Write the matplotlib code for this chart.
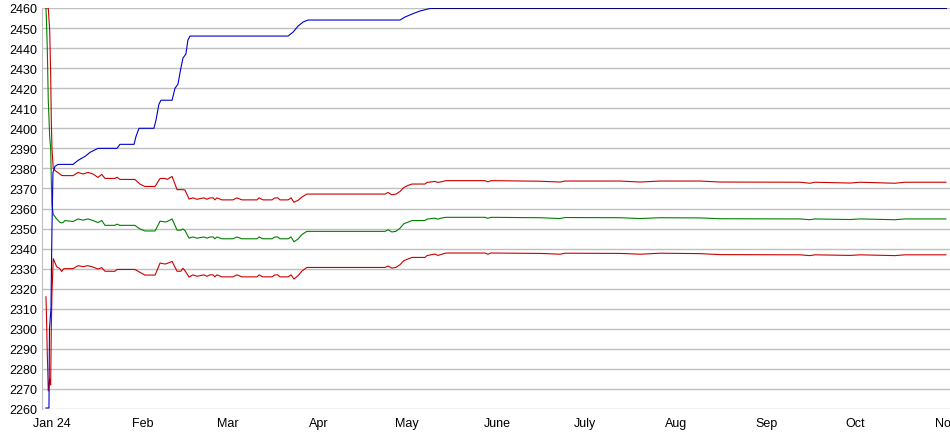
import pandas as pd
import matplotlib
matplotlib.use("Agg")
import matplotlib.pyplot as plt

# dias contados a partir de 1 jan 2024
blue_days = [-2.05, -1.02, -0.85, -0.34, 0, 0.34, 1.02, 2.05, 7.2, 8.9, 11.3, 13.0,
             15.7, 22.2, 23.2, 28.0, 28.7, 29.7, 34.8, 35.5, 36.5, 37.2, 41.0, 42.0,
             43.0, 44.0, 44.7, 45.7, 46.4, 47.1, 80.6, 82.3, 84.0, 85.7, 87.4, 118.8,
             120.5, 122.9, 125.6, 128.3, 129.7, 305.1]
blue_vals = [2260.5, 2260.5, 2300, 2310, 2350, 2378, 2381, 2382, 2382, 2384, 2386, 2388,
             2390, 2390, 2392, 2392, 2396, 2400, 2400, 2404, 2412, 2414, 2414, 2420,
             2422, 2430, 2435, 2437, 2444, 2446, 2446, 2448, 2451, 2453, 2454, 2454,
             2455.5, 2457, 2458.5, 2459.5, 2460, 2460]

# linha escura no topo depois de chegar no maximo
cap_days = [129.7, 305.1]
cap_vals = [2460, 2460]

days = [-2.05, -1.88, -1.60, -1.26, -0.78, -0.44, -0.24, 0, 0.44, 1.02, 1.6, 2.7,
        3.3, 3.9, 4.4, 7.2, 8.9, 10.6, 12.3, 14.0, 15.7, 17.0, 18.1, 21.5,
        22.2, 23.2, 28.3, 30.0, 31.7, 35.2, 36.9, 38.6, 39.3, 41.0, 42.7, 44.0,
        44.7, 45.4, 46.8, 48.1, 49.5, 51.9, 52.9, 53.9, 55.0, 55.6, 56.3, 58.0,
        61.8, 63.1, 64.9, 70.0, 70.7, 72.0, 75.1, 76.1, 77.1, 77.8, 80.6, 81.6,
        82.6, 84.0, 85.3, 87.0, 113.7, 114.7, 116.0, 117.4, 118.8, 120.1, 121.5, 122.9,
        127.3, 128.0, 130.7, 131.7, 133.1, 134.5, 147.8, 148.8, 149.8, 166.6, 173.4, 175.1,
        193.9, 200.7, 207.5, 221.2, 228.0, 255.3, 258.7, 260.4, 272.4, 275.8, 287.7, 291.1,
        305.1]

upper = [2460, 2460, 2460, 2460, 2449, 2427, 2405, 2390, 2380, 2379, 2378.4, 2377.2,
         2376.5, 2376.4, 2376.4, 2376.4, 2378, 2377.2, 2378, 2377.2, 2375.5, 2377, 2375, 2375,
         2375.6, 2374.5, 2374.5, 2372.2, 2371, 2371, 2375, 2375, 2374.5, 2376, 2369.4, 2369.4,
         2369.4, 2369.2, 2364.7, 2365.3, 2364.6, 2365.3, 2364.6, 2365.3, 2365.3, 2364.3, 2365.3, 2364.3,
         2364.3, 2365.3, 2364.3, 2364.3, 2365.3, 2364.3, 2364.3, 2365.3, 2365.3, 2364.3, 2364.3, 2365.3,
         2363.1, 2364.1, 2365.7, 2367.2, 2367.2, 2368, 2366.8, 2367.2, 2368.5, 2370.5, 2371.5, 2372.2,
         2372.2, 2373, 2373.5, 2373, 2373.4, 2373.9, 2373.9, 2373.3, 2373.9, 2373.6, 2373.2, 2373.7,
         2373.7, 2373.2, 2373.7, 2373.7, 2373.2, 2373.1, 2372.6, 2373.1, 2372.7, 2373.1, 2372.6, 2373.1,
         2373.1]

mean = [2460, 2454, 2440, 2414, 2396, 2390, 2375, 2362, 2357, 2356, 2354.8, 2353.1,
        2352.8, 2353.2, 2354, 2353.5, 2354.8, 2354.2, 2354.8, 2354, 2353, 2354, 2351.6, 2351.6,
        2352.2, 2351.6, 2351.6, 2349.8, 2348.8, 2348.8, 2353.7, 2353.3, 2353.5, 2354.8, 2349.2, 2349.2,
        2349.8, 2349, 2345.2, 2345.8, 2345.2, 2345.8, 2345.2, 2345.8, 2345.8, 2344.9, 2345.8, 2344.9,
        2344.9, 2345.8, 2344.9, 2344.9, 2345.8, 2344.9, 2344.9, 2345.8, 2345.8, 2344.9, 2344.9, 2345.8,
        2343.4, 2344.8, 2347, 2348.6, 2348.6, 2349.4, 2348.3, 2348.6, 2350.2, 2352.4, 2353.2, 2354,
        2354, 2354.7, 2355.2, 2354.7, 2355.3, 2355.6, 2355.6, 2355.1, 2355.6, 2355.4, 2355, 2355.5,
        2355.4, 2355, 2355.4, 2355.3, 2354.9, 2354.8, 2354.4, 2354.8, 2354.5, 2354.8, 2354.4, 2354.8,
        2354.8]

lower = [2316, 2307, 2288, 2269, 2275, 2272, 2299, 2318, 2335, 2333, 2331, 2330,
         2328.6, 2329.8, 2330, 2330, 2331.5, 2331, 2331.5, 2330.8, 2329.8, 2330.5, 2328.7, 2328.7,
         2329.6, 2329.6, 2329.6, 2328.2, 2326.8, 2326.8, 2332.8, 2332.3, 2332.6, 2333.6, 2328.7, 2328.7,
         2330.2, 2329, 2325.8, 2326.9, 2326.2, 2326.9, 2326.2, 2326.9, 2326.9, 2325.9, 2326.9, 2325.9,
         2325.9, 2326.9, 2325.9, 2325.9, 2326.9, 2325.9, 2325.9, 2326.9, 2326.9, 2325.9, 2325.9, 2326.9,
         2324.8, 2326.5, 2328.8, 2330.6, 2330.6, 2331.3, 2330.3, 2330.6, 2332, 2334, 2334.8, 2335.6,
         2335.6, 2336.5, 2337.3, 2336.6, 2337.2, 2337.8, 2337.8, 2337.2, 2337.8, 2337.6, 2337.2, 2337.7,
         2337.6, 2337.2, 2337.7, 2337.5, 2337, 2336.9, 2336.5, 2336.9, 2336.6, 2336.9, 2336.5, 2336.9,
         2336.9]

month_labels = ["Jan 24", "Feb", "Mar", "Apr", "May", "June", "July", "Aug", "Sep", "Oct", "Nov"]
month_starts = pd.date_range("2024-01-01", "2024-11-01", freq="MS")
month_ticks = list((month_starts - pd.Timestamp("2024-01-01")).days)

plt.rcParams["font.family"] = ["Liberation Sans", "DejaVu Sans"]

fig = plt.figure(figsize=(9.5, 4.35), dpi=100)
ax = fig.add_axes([42 / 950, 1 - 410 / 435, 1 - 42 / 950, 401 / 435])

ax.plot(days, upper, color="#cc0000", lw=0.8)
ax.plot(days, lower, color="#cc0000", lw=0.8)
ax.plot(days, mean, color="#008000", lw=0.8)
ax.plot(blue_days, blue_vals, color="#0000cc", lw=0.8)
ax.plot(cap_days, cap_vals, color="#000070", lw=1.4)

ax.set_xlim(-3.4, 306.5)
ax.set_ylim(2260, 2460)
ax.set_yticks(range(2260, 2461, 10))
ax.set_xticks(month_ticks)
ax.set_xticklabels(month_labels)
ax.grid(axis="y", color="#c0c0c0", lw=1)
ax.set_axisbelow(True)
for side in ["top", "right", "bottom"]:
    ax.spines[side].set_visible(False)
ax.spines["left"].set_color("#c0c0c0")
ax.tick_params(length=0, labelsize=9, colors="black")
ax.tick_params(axis="y", pad=3.6)
ax.tick_params(axis="x", pad=6)
# o "Nov" fica cortado na borda, igual ao original
for lbl in ax.get_xticklabels() + ax.get_yticklabels():
    lbl.set_clip_on(False)

fig.savefig("out.png", dpi=100)
